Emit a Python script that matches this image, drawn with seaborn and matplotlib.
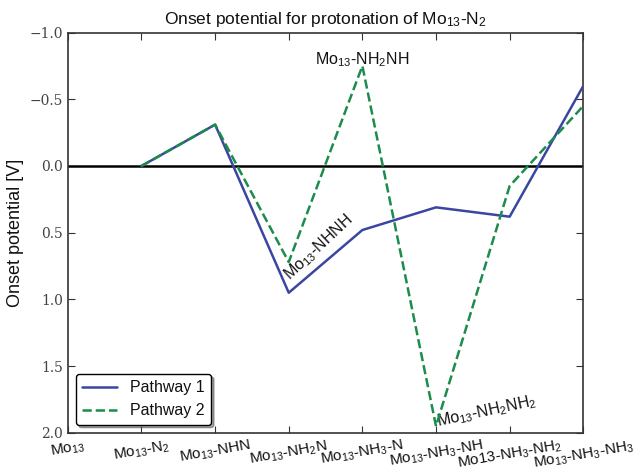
import matplotlib
matplotlib.use("Agg")
import matplotlib.pyplot as plt
import seaborn as sns
import pandas as pd

categories = ["Mo$_{13}$", "Mo$_{13}$-N$_2$", "Mo$_{13}$-NHN", "Mo$_{13}$-NH$_2$N",
              "Mo$_{13}$-NH$_3$-N", "Mo$_{13}$-NH$_3$-NH", "Mo13-NH$_3$-NH$_2$",
              "Mo$_{13}$-NH$_3$-NH$_3$"]
steps = [1, 2, 3, 4, 5, 6, 7]
pathway1 = [0.0, -0.31, 0.95, 0.48, 0.31, 0.38, -0.60]
pathway2 = [0.0, -0.31, 0.72, -0.75, 1.95, 0.15, -0.45]
yticks = [-1.0, -0.5, 0.0, 0.5, 1.0, 1.5, 2.0]

sns.set_style("white")
plt.rcParams["font.family"] = ["Liberation Sans", "DejaVu Sans"]
plt.rcParams["mathtext.default"] = "regular"
plt.rcParams["text.color"] = "#111111"
plt.rcParams["axes.labelcolor"] = "#111111"
plt.rcParams["xtick.color"] = "#222222"
plt.rcParams["ytick.color"] = "#222222"

fig = plt.figure(figsize=(6.34, 4.72), dpi=100)
ax = fig.add_axes([0.107, 0.083, 0.813, 0.848])

df = pd.DataFrame({
    "step": steps + steps,
    "value": pathway1 + pathway2,
    "series": ["Pathway 1"] * len(steps) + ["Pathway 2"] * len(steps),
})

ax.axhline(0, color="black", lw=1.8, zorder=1)
sns.lineplot(data=df[df.series == "Pathway 1"], x="step", y="value", ax=ax,
             color="#3a47a0", lw=1.8, label="Pathway 1", zorder=3)
sns.lineplot(data=df[df.series == "Pathway 2"], x="step", y="value", ax=ax,
             color="#1c8c4c", lw=1.8, ls="--", dashes=(4, 3.5), label="Pathway 2", zorder=4)

ax.set_xlim(0, 7)
ax.set_ylim(2.0, -1.0)
ax.set_xticks(range(len(categories)))
ax.set_xticklabels(categories, rotation=10, ha="center", fontsize=11, color="#111111")
ax.set_yticks(yticks)
ax.set_yticklabels([f"{v:.1f}".replace("-", "\u2212") for v in yticks],
                   family="DejaVu Serif", fontsize=10, color="#444444")
ax.tick_params(direction="in", bottom=True, left=True, top=True, right=True,
               length=5, width=0.8, color="#333333")
ax.set_xlabel("")
ax.set_ylabel("Onset potential [V]", fontsize=13)
ax.set_title("Onset potential for protonation of Mo$_{13}$-N$_2$", fontsize=12.5)
for s in ax.spines.values():
    s.set_color("#333333")
    s.set_linewidth(1.2)

ax.text(4.0, -0.76, "Mo$_{13}$-NH$_2$NH", ha="center", va="baseline", fontsize=11.5)
ax.text(3.02, 0.86, "Mo$_{13}$-NHNH", rotation=43, rotation_mode="anchor",
        ha="left", va="baseline", fontsize=11.5)
ax.text(5.03, 1.95, "Mo$_{13}$-NH$_2$NH$_2$", rotation=12, rotation_mode="anchor",
        ha="left", va="baseline", fontsize=11.5)

leg = ax.legend(loc="lower left", fancybox=True, shadow=True, fontsize=11.5,
                frameon=True, borderaxespad=0.5, handlelength=2.2)
leg.get_frame().set_edgecolor("black")
leg.get_frame().set_alpha(1)

fig.savefig("out.png", dpi=100)
